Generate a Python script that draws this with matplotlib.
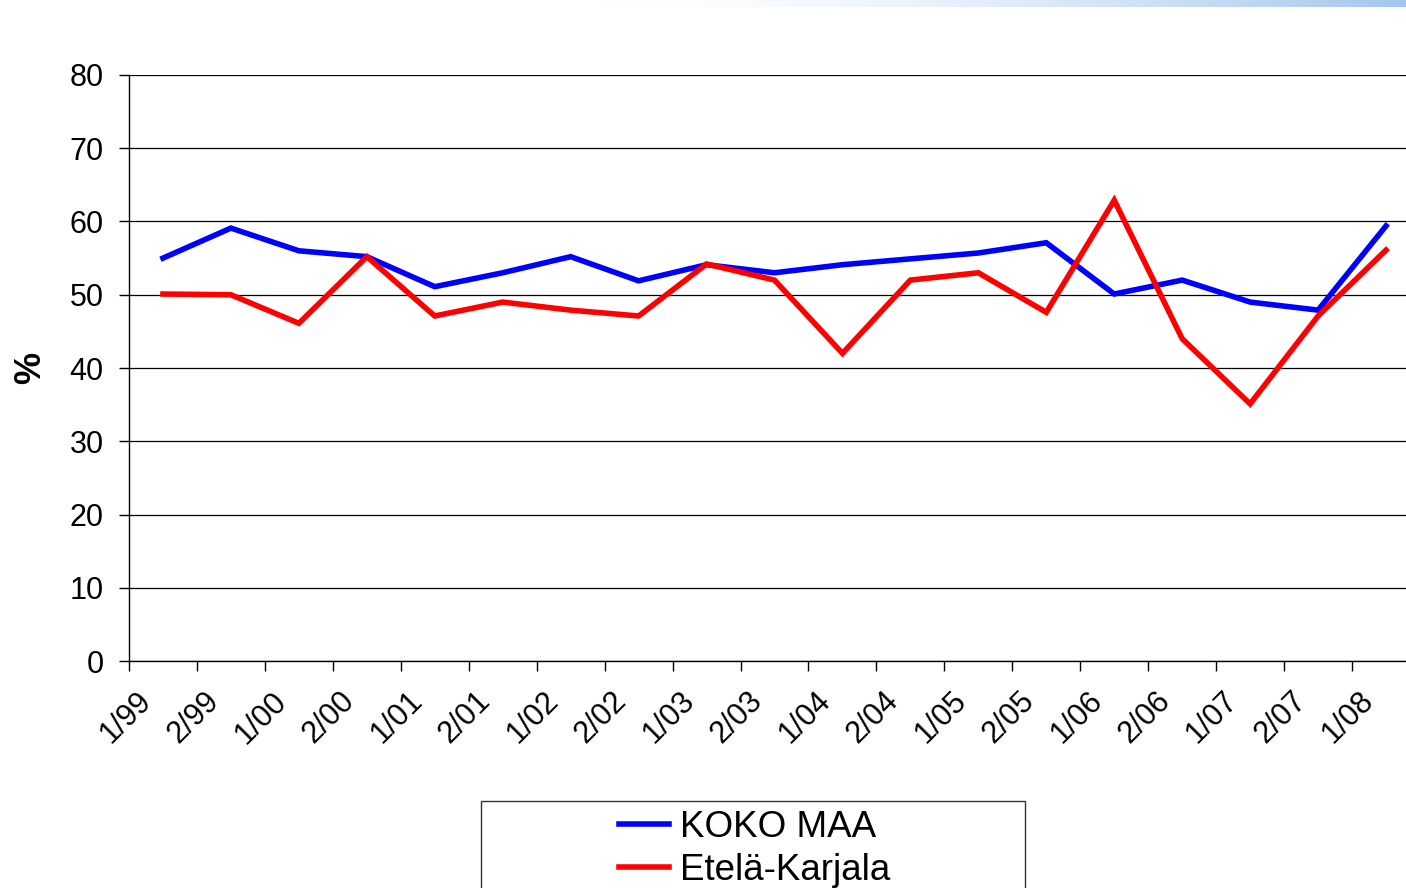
import numpy as np
import matplotlib
matplotlib.use("Agg")
import matplotlib.pyplot as plt
from matplotlib.patches import Rectangle

# ---- data ----
periods = ["1/99", "2/99", "1/00", "2/00", "1/01", "2/01", "1/02", "2/02", "1/03",
           "2/03", "1/04", "2/04", "1/05", "2/05", "1/06", "2/06", "1/07", "2/07", "1/08"]
koko_maa = [55.0, 59.1, 56.0, 55.2, 51.1, 53.0, 55.2, 51.9, 54.1,
            53.0, 54.1, 54.9, 55.7, 57.1, 50.1, 52.0, 49.0, 47.9, 59.4]
etela_karjala = [50.1, 50.0, 46.1, 55.2, 47.1, 49.0, 47.9, 47.1, 54.2,
                 52.0, 42.0, 52.0, 53.0, 47.6, 62.9, 44.0, 35.1, 47.1, 56.1]
y_ticks = [0, 10, 20, 30, 40, 50, 60, 70, 80]
series_names = ["KOKO MAA", "Etelä-Karjala"]

plt.rcParams['font.family'] = ['Liberation Sans', 'DejaVu Sans']

W, H = 1406, 888
fig = plt.figure(figsize=(W / 100, H / 100), dpi=100)

# top gradient bar
gax = fig.add_axes([600 / W, 1 - 7 / H, (W - 600) / W, 7 / H])
t = np.linspace(0, 1, 400) ** 1.6
c0 = np.array([1.0, 1.0, 1.0])
c1 = np.array([0.64, 0.78, 0.93])
grad = c0[None, :] * (1 - t[:, None]) + c1[None, :] * t[:, None]
gax.imshow(grad[None, :, :], aspect='auto', extent=[0, 1, 0, 1])
gax.set_axis_off()

ax = fig.add_axes([129 / W, 1 - 661 / H, 1291 / W, 586 / H])
x = np.arange(len(periods))
ax.plot(x, koko_maa, color='#0000FF', lw=4.0, solid_joinstyle='miter', label=series_names[0], zorder=3)
ax.plot(x, etela_karjala, color='#FF0000', lw=4.0, solid_joinstyle='miter', label=series_names[1], zorder=3)

ax.set_xlim(-0.5, len(periods) - 0.5)
ax.set_ylim(0, 80)
ax.set_yticks(y_ticks)
ax.set_yticklabels([str(v) for v in y_ticks], fontsize=22)
ax.yaxis.grid(True, color='black', lw=0.9)
ax.set_axisbelow(True)

for s in ['top', 'right']:
    ax.spines[s].set_visible(False)
for s in ['left', 'bottom']:
    ax.spines[s].set_color('black')
    ax.spines[s].set_linewidth(1.0)

ax.tick_params(axis='y', direction='out', length=7.2, width=1.0, pad=11)
# category labels near centres, tick marks at boundaries
ax.set_xticks(x - 0.40)
ax.set_xticklabels(periods, fontsize=22, rotation=45, ha='right', va='top',
                   rotation_mode='anchor')
ax.tick_params(axis='x', which='major', length=0, pad=18)
ax.set_xticks(np.arange(-0.5, len(periods) + 0.5, 1), minor=True)
ax.tick_params(axis='x', which='minor', direction='out', length=7.2, width=1.0)

fig.text(31 / W, 1 - 368 / H, '%', rotation=90, fontsize=26, fontweight='bold',
         ha='center', va='center')

# legend frame and legend
fig.patches.append(Rectangle((481 / W, -0.05), 544 / W, 0.05 + (H - 801) / H,
                             transform=fig.transFigure, fill=False,
                             edgecolor='#333333', lw=1.0))
handles, labels = ax.get_legend_handles_labels()
leg = fig.legend(handles, labels, loc='center', bbox_to_anchor=(755 / W, 1 - 849 / H),
                 frameon=False, fontsize=26.5, handlelength=1.36, handletextpad=0.3,
                 labelspacing=0.2, borderaxespad=0)

fig.savefig('out.png', dpi=100)
